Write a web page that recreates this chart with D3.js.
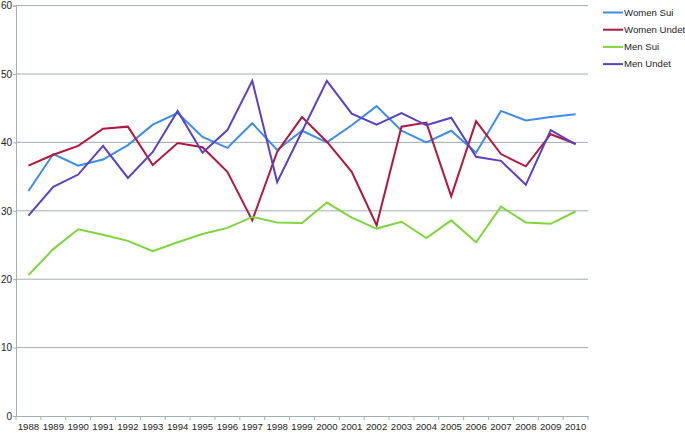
<!DOCTYPE html>
<html>
<head>
<meta charset="utf-8">
<script src="https://cdn.jsdelivr.net/npm/d3@7"></script>
<style>
  body { margin: 0; background: #fff; }
  text { font-family: "Liberation Sans", Arial, sans-serif; fill: #222; }
</style>
</head>
<body>
<div id="chart"></div>
<script>
const years = ["1988","1989","1990","1991","1992","1993","1994","1995","1996","1997","1998","1999",
  "2000","2001","2002","2003","2004","2005","2006","2007","2008","2009","2010"];

const womenSui   = [32.9,38.3,36.6,37.5,39.6,42.6,44.3,40.8,39.2,42.8,38.9,41.7,40.0,42.5,45.3,41.7,40.0,41.7,38.5,44.6,43.2,43.7,44.1];
const womenUndet = [36.6,38.2,39.5,42.0,42.3,36.7,39.9,39.3,35.7,28.6,38.6,43.7,40.1,35.7,27.9,42.3,42.9,32.1,43.1,38.3,36.5,41.2,39.8];
const menSui     = [20.6,24.4,27.3,26.5,25.6,24.1,25.4,26.6,27.5,29.1,28.3,28.2,31.2,29.0,27.4,28.4,26.0,28.6,25.4,30.6,28.3,28.1,29.9];
const menUndet   = [29.3,33.5,35.3,39.5,34.8,38.6,44.6,38.5,41.8,49.0,34.2,41.6,49.0,44.2,42.6,44.3,42.5,43.6,37.9,37.3,33.8,41.8,39.7];

const seriesNames = ["Women Sui", "Women Undet", "Men Sui", "Men Undet"];
const seriesColors = ["#3d8de6", "#b3173f", "#7ed63c", "#5a40c4"];
const yTicks = [0, 10, 20, 30, 40, 50, 60];

const series = [womenSui, womenUndet, menSui, menUndet].map((vals, i) => ({
  name: seriesNames[i],
  color: seriesColors[i],
  values: vals.map((v, j) => ({ year: years[j], value: v }))
}));

const width = 685, height = 433;
const margin = { top: 5.6, right: 97, bottom: 17, left: 16 };

const svg = d3.select("#chart").append("svg")
  .attr("width", width)
  .attr("height", height);

const x = d3.scaleBand().domain(years).range([margin.left, width - margin.right]);
const y = d3.scaleLinear().domain([0, 60]).range([height - margin.bottom, margin.top]);

// gridlines
svg.append("g")
  .selectAll("line")
  .data(yTicks.filter(d => d > 0))
  .join("line")
  .attr("x1", margin.left)
  .attr("x2", width - margin.right)
  .attr("y1", d => y(d))
  .attr("y2", d => y(d))
  .attr("stroke", "#a3adb3")
  .attr("stroke-width", 1);

// y axis
const yAxis = svg.append("g")
  .attr("transform", `translate(${margin.left},0)`)
  .call(d3.axisLeft(y).tickValues(yTicks).tickSize(3).tickPadding(1));
yAxis.select(".domain").attr("stroke", "#a3adb3");
yAxis.selectAll(".tick line").attr("stroke", "#a3adb3");
yAxis.selectAll("text").style("font-size", "10px").attr("fill", "#222");

// x axis
const xAxis = svg.append("g")
  .attr("transform", `translate(0,${y(0)})`)
  .call(d3.axisBottom(x).tickSize(0).tickPadding(7));
xAxis.select(".domain").attr("stroke", "#a3adb3");
xAxis.selectAll("text").style("font-size", "9.6px").attr("fill", "#222");

// x tick marks at category boundaries
svg.append("g")
  .selectAll("line")
  .data(years.concat(["end"]))
  .join("line")
  .attr("x1", (d, i) => margin.left + i * x.step())
  .attr("x2", (d, i) => margin.left + i * x.step())
  .attr("y1", y(0))
  .attr("y2", y(0) + 4)
  .attr("stroke", "#a3adb3");

// lines
const line = d3.line()
  .x(d => x(d.year) + x.bandwidth() / 2)
  .y(d => y(d.value));

svg.append("g")
  .selectAll("path")
  .data(series)
  .join("path")
  .attr("d", d => line(d.values))
  .attr("fill", "none")
  .attr("stroke", d => d.color)
  .attr("stroke-width", 2)
  .attr("stroke-linejoin", "miter");

// legend
const legend = svg.append("g")
  .attr("transform", "translate(603,12.5)");

const items = legend.selectAll("g")
  .data(series)
  .join("g")
  .attr("transform", (d, i) => `translate(0,${i * 17.2})`);

items.append("line")
  .attr("x1", 0).attr("x2", 20)
  .attr("stroke", d => d.color)
  .attr("stroke-width", 2);

items.append("text")
  .attr("x", 21)
  .attr("dy", "0.35em")
  .style("font-size", "9.6px")
  .text(d => d.name);
</script>
</body>
</html>
